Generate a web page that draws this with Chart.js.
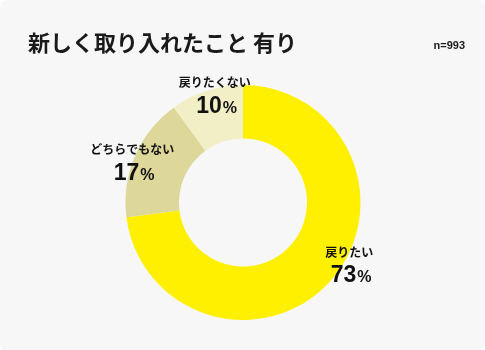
<!DOCTYPE html>
<html lang="ja">
<head>
<meta charset="utf-8">
<script src="https://cdn.jsdelivr.net/npm/chart.js@4"></script>
<style>
  html, body { margin: 0; padding: 0; background: #ffffff; }
  #card {
    position: relative; width: 485px; height: 350px;
    background: #f7f7f7; border-radius: 7px; overflow: hidden;
    font-family: "Noto Sans CJK JP", "Noto Sans", sans-serif;
  }
  #title {
    position: absolute; left: 28px; top: 26px;
    font-size: 22px; font-weight: 700; color: #1a1a1a; line-height: 30px;
    white-space: nowrap;
  }
  #n {
    position: absolute; right: 20px; top: 37px;
    font-size: 11px; font-weight: 700; color: #1a1a1a; line-height: 16px;
    font-family: "Liberation Sans", "Noto Sans", sans-serif;
  }
  #wrap { position: absolute; left: 0; top: 0; width: 485px; height: 350px; }
</style>
</head>
<body>
<div id="card">
  <div id="wrap"><canvas id="c" width="485" height="350"></canvas></div>
  <div id="title">新しく取り入れたこと 有り</div>
  <div id="n">n=993</div>
</div>
<script>
const categories = ["戻りたい", "どちらでもない", "戻りたくない"];
const values = [73, 17, 10];
const colors = ["#fff000", "#ddd799", "#f2eec6"];

const labelPlugin = {
  id: "sliceLabels",
  afterDatasetsDraw(chart) {
    const ctx = chart.ctx;
    const meta = chart.getDatasetMeta(0);
    const tweaks = [[18, -17], [-3, 5], [8, 3]];
    const numFont = '700 23px "Liberation Sans", "Noto Sans", sans-serif';
    const pctFont = '700 16px "Liberation Sans", "Noto Sans", sans-serif';
    meta.data.forEach((arc, i) => {
      const p = arc.getProps(["x", "y", "startAngle", "endAngle", "outerRadius"], true);
      const mid = (p.startAngle + p.endAngle) / 2;
      const cx = p.x + Math.cos(mid) * p.outerRadius + tweaks[i][0];
      const cy = p.y + Math.sin(mid) * p.outerRadius + tweaks[i][1];
      ctx.save();
      ctx.fillStyle = "#111111";
      ctx.textAlign = "center";
      ctx.textBaseline = "middle";
      ctx.font = '700 12px "Noto Sans CJK JP", sans-serif';
      ctx.fillText(categories[i], cx, cy - 11);
      const num = String(values[i]);
      ctx.font = numFont;
      const wNum = ctx.measureText(num).width;
      ctx.font = pctFont;
      const wPct = ctx.measureText("%").width;
      const total = wNum + wPct + 1;
      const x0 = cx - total / 2 + 2;
      ctx.textAlign = "left";
      ctx.textBaseline = "alphabetic";
      ctx.font = numFont;
      ctx.fillText(num, x0, cy + 19);
      ctx.font = pctFont;
      ctx.fillText("%", x0 + wNum + 1, cy + 19);
      ctx.restore();
    });
  }
};

new Chart(document.getElementById("c"), {
  type: "doughnut",
  data: {
    labels: categories,
    datasets: [{
      data: values,
      backgroundColor: colors,
      borderWidth: 0,
      hoverOffset: 0
    }]
  },
  options: {
    responsive: false,
    animation: false,
    cutout: "54.5%",
    layout: { padding: { left: 125.5, right: 124.5, top: 85, bottom: 30 } },
    plugins: {
      legend: { display: false },
      tooltip: { enabled: false },
      title: { display: false }
    }
  },
  plugins: [labelPlugin]
});
</script>
</body>
</html>
